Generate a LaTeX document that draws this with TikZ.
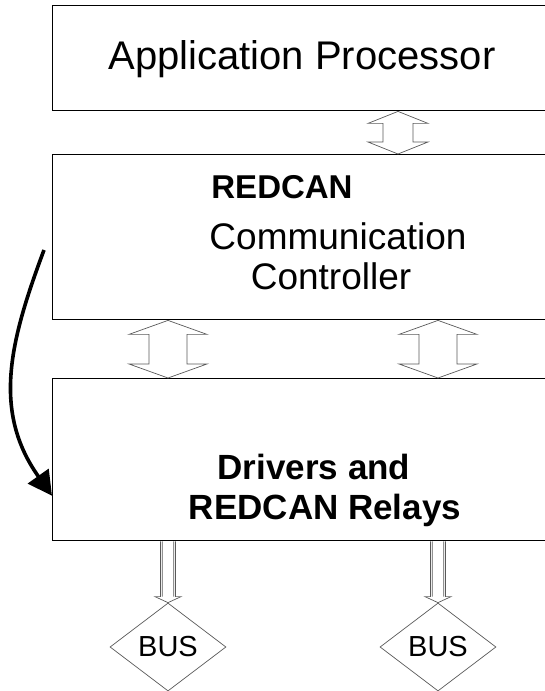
\documentclass[tikz,border=0pt]{standalone}
\usepackage{fontspec}
\setmainfont{Liberation Sans}
\usetikzlibrary{calc}
\usetikzlibrary{positioning}
\usetikzlibrary{shapes.geometric}
\usetikzlibrary{arrows.meta}

\begin{document}
\begin{tikzpicture}[x=1pt, y=1pt,
		box/.style = {rectangle, draw=black, line width=1.4pt, minimum width=520pt, anchor=north west},
		txt/.style = {align=center, inner sep=0pt, anchor=base},
		hollow/.style = {draw=gray!70!black, line width=0.7pt, line join=miter},
		bus/.style = {diamond, draw=gray!70!black, line width=0.7pt, minimum width=116pt, minimum height=88pt, inner sep=0pt, font=\fontsize{29}{32}\selectfont},
		flow/.style = {-{Triangle[length=24pt, width=25pt]}, line width=3.6pt},
		]
		\clip (0, 0) rectangle (545, 691);
		
		% the three blocks
		\node[box, minimum height=105pt]	(ap)	at	(52, 686)	{};
		\node[box, minimum height=165pt]	(cc)	at	(52, 537)	{};
		\node[box, minimum height=162pt]	(dr)	at	(52, 313)	{};
		
		\node[txt, font=\fontsize{40}{48}\selectfont]	(aptext)	at	(302, 621)	{Application Processor};
		\node[txt, font=\fontsize{33}{40}\selectfont\bfseries]	(redcan)	at	(282, 492)	{REDCAN};
		\node[txt, font=\fontsize{37}{40}\selectfont]	(comm)	at	(338, 441)	{Communication};
		\node[txt, font=\fontsize{37}{40}\selectfont]	(ctrl)	at	(331, 401)	{Controller};
		\node[txt, font=\fontsize{35}{40}\selectfont\bfseries]	(drivers)	at	(314, 211)	{Drivers and};
		\node[txt, font=\fontsize{35}{40}\selectfont\bfseries]	(relays)	at	(325, 171)	{REDCAN Relays};
		
		\node[bus]	(bus1)	at	(168, 44)	{BUS};
		\node[bus]	(bus2)	at	(438, 44)	{BUS};
		
		% two-way links between the blocks
		\foreach \px/\up/\lo/\s/\h/\l in {398/ap/cc/15/30/12, 168/cc/dr/19/39/14, 438/cc/dr/19/39/14}
			\draw[hollow]	let \p1 = (\up.south), \p2 = (\lo.north) in
				(\px, \y1) -- (\px+\h, \y1-\l) -- (\px+\s, \y1-\l) -- (\px+\s, \y2+\l) -- (\px+\h, \y2+\l)
				-- (\px, \y2) -- (\px-\h, \y2+\l) -- (\px-\s, \y2+\l) -- (\px-\s, \y1-\l) -- (\px-\h, \y1-\l) -- cycle;
		
		% links down to the buses
		\foreach \bus in {bus1, bus2}
			\draw[hollow]	let \p1 = (dr.south), \p2 = (\bus.north) in
				(\x2-7.5, \y1) -- (\x2-7.5, \y2+6) -- (\x2-13, \y2+6) -- (\x2, \y2)
				-- (\x2+13, \y2+6) -- (\x2+7.5, \y2+6) -- (\x2+7.5, \y1)
				(\x2-5.8, \y1) -- (\x2-5.8, \y2+6) (\x2+5.8, \y1) -- (\x2+5.8, \y2+6);
		
		\coordinate	(start)	at	([xshift=-8pt, yshift=-96pt]cc.north west);
		\draw[flow]	(start)	.. controls (10, 350) and (-8, 280) ..	([yshift=-36pt]dr.west);
	\end{tikzpicture}
\end{document}
